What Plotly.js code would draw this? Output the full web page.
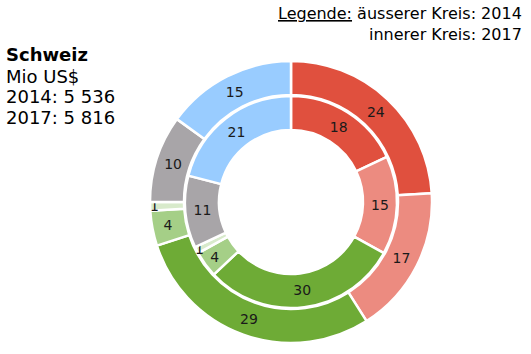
<!DOCTYPE html>
<html><head><meta charset="utf-8">
<script src="https://cdn.plot.ly/plotly-3.0.1.min.js"></script>
<style>html,body{margin:0;padding:0;background:#fff}#c{width:531px;height:354px}</style>
</head><body><div id="c"></div>
<script>
const categories = ["A","B","C","D","E","F","G"];
const values2014 = [24, 17, 29, 4, 1, 10, 15];
const values2017 = [18, 15, 30, 4, 1, 11, 21];
const colors = ["#e0503e", "#ec8b80", "#6eab36", "#a5cf87", "#d8eacb", "#a8a5a8", "#99ccff"];
const titleLines = ["<b>Schweiz</b>", "Mio US$", "2014: 5 536", "2017: 5 816"];
const legendLines = ["<u>Legende:</u> äusserer Kreis: 2014", "innerer Kreis: 2017"];

const W = 531, H = 354;
const cx = 291, cy = 202;
const rOuter = 141, rInner = 106;
function dom(r){
  return {x:[(cx-r)/W,(cx+r)/W], y:[(H-cy-r)/H,(H-cy+r)/H]};
}
const common = {
  type:'pie', labels:categories, sort:false, direction:'clockwise', rotation:0,
  textinfo:'text', textposition:'inside', insidetextorientation:'horizontal',
  hoverinfo:'none', showlegend:false,
  marker:{colors:colors, line:{color:'#ffffff', width:2.5}},
  textfont:{family:'DejaVu Sans, Verdana, sans-serif', size:14, color:'#1a1a1a'}
};
const traces = [
  Object.assign({}, common, {values:values2014, text:values2014.map(String), hole:107/141, domain:dom(rOuter)}),
  Object.assign({}, common, {values:values2017, text:values2017.map(String), hole:72/106, domain:dom(rInner)})
];
const font = {family:'DejaVu Sans, Verdana, sans-serif', color:'#000'};
const annotations = [];
titleLines.forEach((t,i)=>annotations.push({
  text:t, xref:'paper', yref:'paper', x:4/W, y:1-(55+i*21)/H, xanchor:'left', yanchor:'middle',
  showarrow:false, font:Object.assign({size:18}, font)
}));
legendLines.forEach((t,i)=>annotations.push({
  text:t, xref:'paper', yref:'paper', x:524/W, y:1-(14+i*20)/H, xanchor:'right', yanchor:'middle',
  showarrow:false, font:Object.assign({size:16}, font)
}));
Plotly.newPlot('c', traces, {
  width:W, height:H, margin:{l:0,r:0,t:0,b:0},
  paper_bgcolor:'#fff', plot_bgcolor:'#fff',
  uniformtext:{mode:'show', minsize:14},
  annotations:annotations
}, {staticPlot:true});
</script></body></html>
